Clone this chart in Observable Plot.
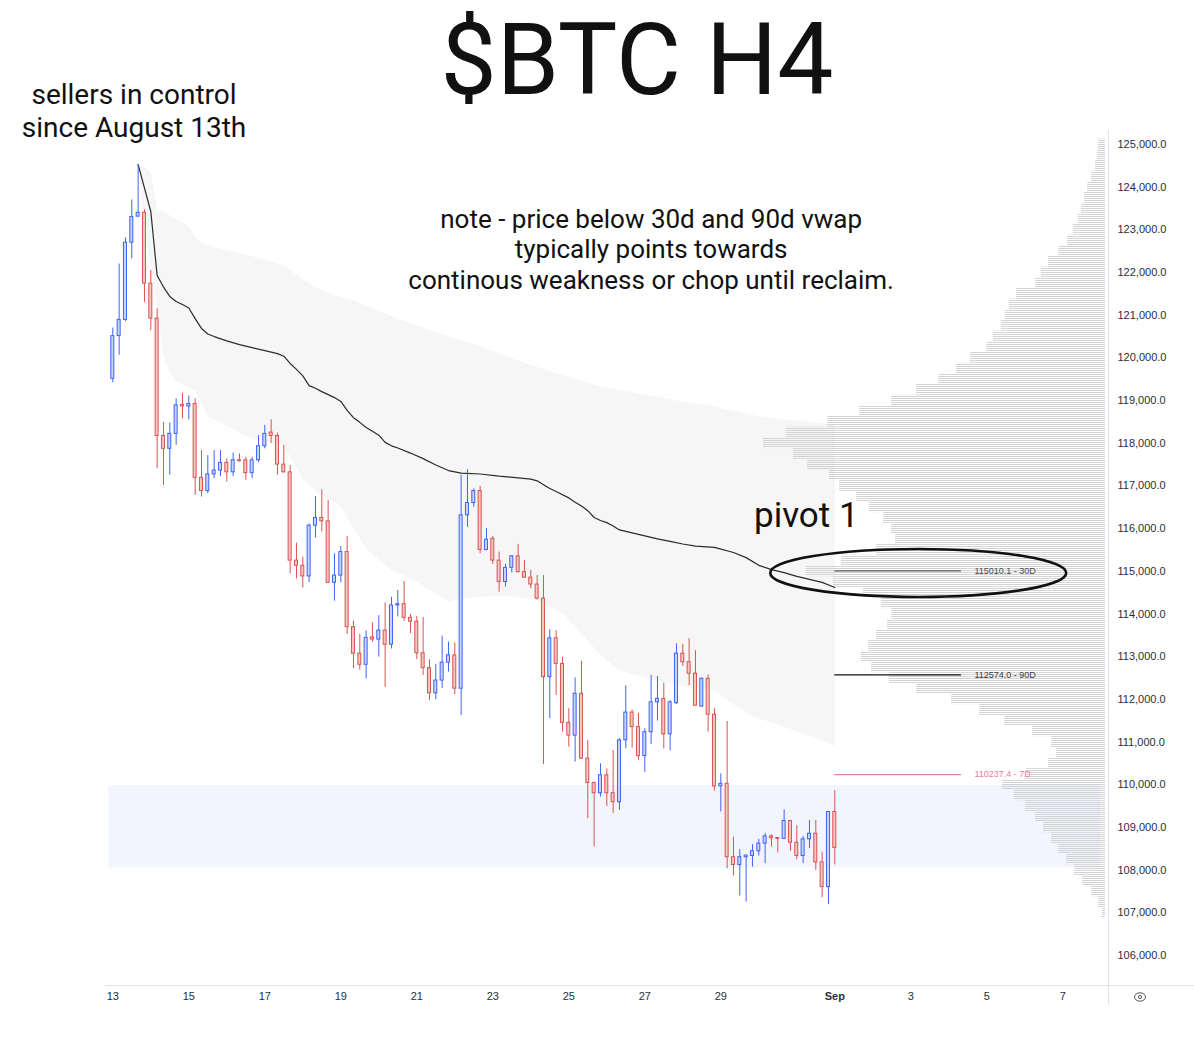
<!DOCTYPE html>
<html><head><meta charset="utf-8">
<script src="https://cdn.jsdelivr.net/npm/d3@7"></script>
<script src="https://cdn.jsdelivr.net/npm/@observablehq/plot@0.6"></script>
<style>
body{margin:0;background:#fff;width:1194px;height:1038px;position:relative;overflow:hidden;font-family:Roboto,sans-serif;}
#header{position:absolute;left:0;top:0;width:1194px;height:130px;z-index:2;pointer-events:none;}
#chart{position:absolute;left:0;top:130px;z-index:1;}
.hand{position:absolute;color:#111;white-space:nowrap;font-family:Roboto,sans-serif;}
#vsep{position:absolute;left:1108px;top:130px;width:1px;height:875px;background:#e0e3eb;z-index:0;}
#hsep{position:absolute;left:105px;top:985px;width:1089px;height:1px;background:#e0e3eb;z-index:0;}
#eye{position:absolute;left:1133px;top:991px;z-index:3;}
</style></head><body>
<div id="header">
  <div class="hand" style="left:637px;top:1px;font-size:100px;line-height:117px;transform:translateX(-50%);">$BTC H4</div>
  <div class="hand" style="left:134px;top:78px;font-size:28px;line-height:33px;text-align:center;transform:translateX(-50%);">sellers in control<br>since August 13th</div>
</div>
<div id="vsep"></div><div id="hsep"></div>
<div id="chart"></div>
<svg id="eye" width="14" height="12"><ellipse cx="7" cy="6" rx="5.5" ry="4.2" fill="none" stroke="#555" stroke-width="1"/><circle cx="7" cy="6" r="1.6" fill="none" stroke="#555" stroke-width="1"/></svg>
<script>
// ---------- data (H4 candles from 13 Aug, 00:00 UTC) ----------
const firstCandle = "2025-08-13T00:00:00Z";
const open  = [119510,120510,120890,122700,123310,123400,121740,120920,118170,117870,118220,118900,118860,118920,117190,116880,117270,117360,117540,117320,117600,117600,117300,117600,117930,118250,118170,117500,117320,115250,115130,114880,116070,116250,116170,114730,114900,115450,113690,113070,112810,113450,113400,113610,113280,114200,114230,113910,113820,113080,112730,112140,112440,112860,113030,112250,116310,116600,116880,115500,115760,115250,114750,115080,115350,114980,114850,114690,114360,112520,113430,112830,111450,111150,112130,110610,110040,109800,110220,109800,109590,111040,111690,111350,110670,111230,111930,112010,111180,111910,113070,112870,112600,111830,112480,111640,109960,110020,108300,108120,108300,108330,108440,108620,108790,108750,108730,109150,108640,108330,108720,108850,108180,107600,109360];
const high  = [120700,122200,122810,123700,124530,123470,122050,121150,118490,118470,119040,119170,119110,119040,117830,117710,117830,117830,117640,117770,117750,117670,117670,118180,118420,118550,118240,117950,117480,115660,115330,116110,116750,116910,116660,115410,115580,115820,113830,113520,113600,113790,113960,114260,114390,114550,114760,113990,113940,113920,112930,112820,113480,113340,113320,117250,117380,116930,116990,116000,115820,115450,115160,115370,115630,115250,115020,114900,114900,113630,113610,112990,111780,112500,112890,111040,110060,110490,110370,110800,111080,112320,111750,111670,111310,112560,112540,112380,111970,113300,113290,113420,113140,112500,112570,111780,110250,111480,108770,108480,108340,108600,108720,108860,108830,108760,109410,109160,109040,108790,109160,109160,108420,109360,109860];
const low   = [119420,120060,120850,122320,123300,121300,120640,117400,117010,117250,117950,118570,118550,116780,116740,116820,117170,117220,117090,117220,117560,117130,117170,117550,117870,118000,117250,117300,114940,114820,114610,114740,115780,115920,114720,114300,114730,113520,112720,112680,112480,113340,112990,112280,113180,113930,113830,113540,112930,112560,111970,111990,112250,112640,112110,111620,116030,116500,115410,115480,115160,114510,114630,114960,114960,114840,114590,114330,110470,111550,112090,111230,110880,110530,110600,109200,108540,109710,109490,109330,109400,110840,110860,110570,110290,110940,111490,110840,110800,111880,112770,112320,111840,111810,111230,109850,109360,108030,107860,107390,107250,108070,108330,108150,108540,108400,108710,108440,108240,108150,108500,107990,107350,107190,108120];
const close = [120510,120890,122700,123300,123400,121740,120920,118170,117870,118220,118890,118860,118920,117190,116880,117270,117360,117540,117320,117600,117580,117300,117600,117930,118220,118170,117500,117320,115250,115130,114880,116070,116250,116170,114730,114900,115450,113690,113070,112810,113440,113400,113610,113280,114200,114230,113910,113820,113080,112730,112140,112440,112860,113030,112250,116310,116600,116880,115500,115740,115250,114750,115080,115350,114980,114850,114690,114360,112520,113430,112830,111450,111150,112130,110610,110040,109800,110220,109800,109590,111040,111690,111350,110670,111230,111930,112010,111180,111930,113070,112870,112600,111850,112480,111640,109960,110020,108300,108120,108300,108340,108440,108620,108790,108750,108730,109150,108640,108330,108720,108850,108180,107600,109360,108520];

// anchored VWAP (from the top) and its band, by candle index
const vwapIdx = [4,6,7,8,9,10,11,12,13,14,15,16,18,20,22,24,26,27,28,29,30,31,32,33,35,36,37,38,39,40,41,42,43,44,45,47,49,51,53,55,58,61,64,66,67,68,69,70,72,73,74,75,76,77,78,79,80,82,84,86,88,90,92,95,98,100,102,104,106,108,110,112,114];
const vwapVal = [124530,123430,121930,121660,121440,121320,121250,121170,120920,120690,120560,120500,120400,120310,120240,120170,120100,120040,119870,119730,119580,119350,119290,119210,119070,118980,118770,118600,118490,118370,118280,118190,118020,117940,117890,117770,117640,117490,117360,117300,117280,117230,117190,117160,117120,117030,116940,116870,116720,116620,116530,116420,116260,116190,116140,116060,115970,115900,115830,115760,115700,115640,115590,115560,115440,115320,115140,115040,114970,114880,114810,114740,114620];
const upperIdx = [4,5,6,7,9,12,13,14,17,22,27,30,32,36,38,45,51,58,64,70,77,83,89,95,102,108,114];
const upperVal = [124530,124480,124340,123500,123340,123080,122840,122700,122560,122380,122170,121840,121650,121420,121350,120920,120600,120270,119940,119640,119330,119170,119000,118860,118630,118530,118440];
const lowerIdx = [4,5,6,7,8,9,10,13,15,20,22,27,30,32,36,40,44,47,53,55,57,62,67,71,74,77,80,84,88,91,95,98,101,105,109,112,114];
const lowerVal = [124530,123100,122100,121230,120060,119660,119450,119240,118630,118250,118110,117950,117170,116890,116520,115530,115020,114830,114290,114360,114390,114430,114320,114010,113540,113030,112680,112510,112370,112280,112210,111880,111600,111410,111200,111040,110900];

// volume profile (row centre price, relative volume), rows of 250
const profPrice = d3.range(125000, 106999, -250);
const profVol   = [7,8,10,14,18,21,24,27,32,38,47,57,64,70,89,96,100,104,112,119,135,149,167,189,214,246,278,319,342,312,298,276,266,249,236,222,214,210,229,264,299,272,242,224,214,218,229,237,244,234,216,189,154,126,101,73,54,49,57,79,103,91,80,70,62,54,47,39,31,23,14,7,3];

// support zone and VWAP levels
const zone = {from:"2025-08-12T21:30:00Z", to:"2025-09-07T23:50:00Z", lo:108050, hi:109980};
const levelPrice = [115010.1, 112574.0, 110237.4];
const levelLabel = ["115010.1 - 30D","112574.0 - 90D","110237.4 - 7D"];
const levelColor = ["#5a5a5a","#111111","#e8809b"];
const levelFrom = "2025-09-01T00:00:00Z", levelTo = "2025-09-04T08:00:00Z";

// axis ticks
const xTicks = ["2025-08-13","2025-08-15","2025-08-17","2025-08-19","2025-08-21","2025-08-23","2025-08-25","2025-08-27","2025-08-29","2025-09-01","2025-09-03","2025-09-05","2025-09-07"];
const yTicks = d3.range(106000, 125001, 1000);

// annotations (date, price)
const noteText = "note - price below 30d and 90d vwap\ntypically points towards\ncontinous weakness or chop until reclaim.";
const noteAt = {x:"2025-08-27T04:00:00Z", y:122560};
const pivotText = "pivot 1";
const pivotAt = {x:"2025-08-31T06:00:00Z", y:116300};
const ellipseAt = {x:"2025-09-03T05:00:00Z", y:114950, rx:148, ry:24};

// ---------- build ----------
const H = 3600*1000;
const t0 = new Date(firstCandle).getTime();
const T = i => new Date(t0 + i*4*H);
const candles = open.map((o,i)=>({t:T(i), o, h:high[i], l:low[i], c:close[i], up: close[i] >= o}));
const bodyHalf = 0.95*H;

const vwap = vwapIdx.map((i,k)=>({t:T(i), v:vwapVal[k]}));
const band = upperIdx.map((i,k)=>({t:T(i), v:upperVal[k]}))
  .concat(lowerIdx.map((i,k)=>({t:T(i), v:lowerVal[k]})).reverse());

const profEnd = new Date("2025-09-08T03:00:00Z").getTime();
const unit = H*24/38; // one volume unit
const prof = profPrice.map((p,k)=>({y1:p-125, y2:p+125, x1:new Date(profEnd - profVol[k]*unit), x2:new Date(profEnd)}));

const levels = levelPrice.map((p,k)=>({p, label:levelLabel[k], color:levelColor[k], x1:new Date(levelFrom), x2:new Date(levelTo)}));

const xDomain = [new Date("2025-08-10T01:04:00Z"), new Date("2025-09-08T04:52:00Z")];
const yDomain = [105295, 125328];

const upStroke="#3f63f5", upFill="#c9d4fd", dnStroke="#d9534f", dnFill="#f4c7c7";

const plot = Plot.plot({
  width:1194, height:908,
  marginLeft:0, marginRight:86, marginTop:0, marginBottom:53,
  style:{background:"transparent", fontFamily:"Liberation Sans, Arial, sans-serif", fontSize:"11px", color:"#2a2e39"},
  x:{type:"utc", domain:xDomain, ticks:xTicks.map(d=>new Date(d+"T00:00:00Z")),
     tickFormat:d=> (d.getUTCMonth()===8 && d.getUTCDate()===1) ? "Sep" : String(d.getUTCDate()),
     tickSize:0, tickPadding:7, label:null},
  y:{domain:yDomain, axis:"right", ticks:yTicks, tickFormat:d3.format(",.1f"), tickSize:0, tickPadding:9, label:null},
  marks:[
    Plot.rect([zone], {x1:d=>new Date(d.from), x2:d=>new Date(d.to), y1:"lo", y2:"hi", fill:"#f3f5fe"}),
    Plot.line(band, {x:"t", y:"v", fill:"#f6f6f6", stroke:null}),
    Plot.rect(prof, {x1:"x1", x2:"x2", y1:"y1", y2:"y2", fill:"url(#vpStripes)"}),
    Plot.line(vwap, {x:"t", y:"v", stroke:"#2b2b2b", strokeWidth:1.2}),
    Plot.ruleX(candles, {x:"t", y1:"l", y2:"h", stroke:d=>d.up?upStroke:dnStroke, strokeWidth:1}),
    Plot.rect(candles, {x1:d=>new Date(d.t.getTime()-bodyHalf), x2:d=>new Date(d.t.getTime()+bodyHalf), y1:"o", y2:"c",
       fill:d=>d.up?upFill:dnFill, stroke:d=>d.up?upStroke:dnStroke, strokeWidth:1}),
    Plot.ruleY(levels, {y:"p", x1:"x1", x2:"x2", stroke:d=>d.color, strokeWidth:1.3}),
    Plot.text(levels, {y:"p", x:"x2", text:"label", fill:d=>d.color==="#111111"?"#3a3a3a":(d.color==="#5a5a5a"?"#4a4a4a":d.color), textAnchor:"start", dx:13, fontSize:9}),
    Plot.text([noteAt], {x:d=>new Date(d.x), y:"y", text:()=>noteText, fontFamily:"Roboto", fontSize:26, lineHeight:1.173, fill:"#111", lineAnchor:"middle"}),
    Plot.text([pivotAt], {x:d=>new Date(d.x), y:"y", text:()=>pivotText, fontFamily:"Roboto", fontSize:35, fill:"#111"})
  ]
});
document.getElementById("chart").appendChild(plot);
const svg = plot.tagName.toLowerCase()==="svg" ? plot : plot.querySelector("svg");

// stripe pattern for the volume profile
const ns = "http://www.w3.org/2000/svg";
const defs = document.createElementNS(ns,"defs");
defs.innerHTML = '<pattern id="vpStripes" patternUnits="userSpaceOnUse" width="8" height="2"><rect x="0" y="0" width="8" height="1" fill="#d2d2d2"/></pattern>';
svg.insertBefore(defs, svg.firstChild);

// bold "Sep"
svg.querySelectorAll("text").forEach(el=>{ if(el.textContent==="Sep") el.setAttribute("font-weight","bold"); });

// hand-drawn ellipse round pivot 1
const xs = d3.scaleUtc().domain(xDomain).range([0,1108]);
const ys = d3.scaleLinear().domain(yDomain).range([855,0]);
const el = document.createElementNS(ns,"ellipse");
el.setAttribute("cx", xs(new Date(ellipseAt.x)));
el.setAttribute("cy", ys(ellipseAt.y));
el.setAttribute("rx", ellipseAt.rx); el.setAttribute("ry", ellipseAt.ry);
el.setAttribute("fill","none"); el.setAttribute("stroke","#111"); el.setAttribute("stroke-width","2.6");
svg.appendChild(el);
</script>
</body></html>
